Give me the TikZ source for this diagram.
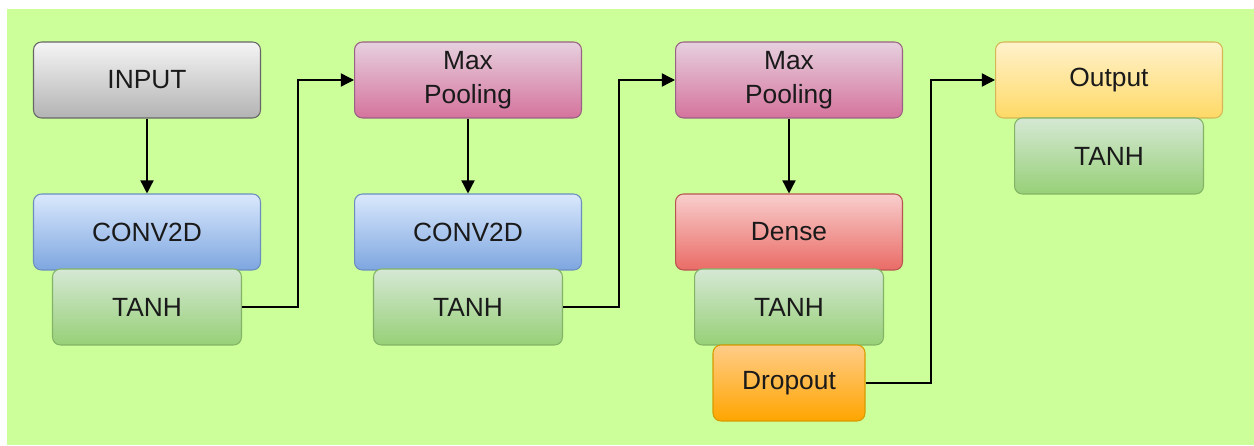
\documentclass[tikz,border=0pt]{standalone}
\usepackage{fontspec}
\setmainfont{Liberation Sans}
\usepackage{tikz}
\usetikzlibrary{arrows.meta,positioning}
\definecolor{LimeBack}{HTML}{CCFF99}
\definecolor{GreyTop}{HTML}{F5F5F5}
\definecolor{GreyBot}{HTML}{B3B3B3}
\definecolor{GreyLine}{HTML}{666666}
\definecolor{BlueTop}{HTML}{DAE8FC}
\definecolor{BlueBot}{HTML}{7EA6E0}
\definecolor{BlueLine}{HTML}{6C8EBF}
\definecolor{GreenTop}{HTML}{D5E8D4}
\definecolor{GreenBot}{HTML}{97D077}
\definecolor{GreenLine}{HTML}{82B366}
\definecolor{PinkTop}{HTML}{E6D0DE}
\definecolor{PinkBot}{HTML}{D5739D}
\definecolor{PinkLine}{HTML}{996185}
\definecolor{RedTop}{HTML}{F8CECC}
\definecolor{RedBot}{HTML}{EA6B66}
\definecolor{RedLine}{HTML}{B85450}
\definecolor{OrangeTop}{HTML}{FFCC88}
\definecolor{OrangeBot}{HTML}{FFA500}
\definecolor{OrangeLine}{HTML}{D79B00}
\definecolor{YellowTop}{HTML}{FFF2CC}
\definecolor{YellowBot}{HTML}{FFD966}
\definecolor{YellowLine}{HTML}{D6B656}
\definecolor{InkGrey}{HTML}{1A1A1A}
\tikzset{
  layer/.style={rounded corners=4.5pt,line width=0.6pt,minimum height=1.52cm,
    text width=4.54cm,inner sep=0pt,align=center,text=InkGrey,
    font=\fontsize{15}{19}\selectfont},
  inputbox/.style={layer,draw=GreyLine,top color=GreyTop,bottom color=GreyBot},
  convbox/.style={layer,draw=BlueLine,top color=BlueTop,bottom color=BlueBot},
  poolbox/.style={layer,draw=PinkLine,top color=PinkTop,bottom color=PinkBot},
  densebox/.style={layer,draw=RedLine,top color=RedTop,bottom color=RedBot},
  outbox/.style={layer,draw=YellowLine,top color=YellowTop,bottom color=YellowBot},
  actbox/.style={layer,text width=3.78cm,draw=GreenLine,top color=GreenTop,bottom color=GreenBot},
  dropbox/.style={layer,text width=3.04cm,draw=OrangeLine,top color=OrangeTop,bottom color=OrangeBot},
  arrow/.style={-{Triangle[length=7.5pt,width=7.5pt]},line width=0.8pt,black}
}
\begin{document}
\begin{tikzpicture}[x=0.02cm,y=-0.02cm]
  \useasboundingbox (0,0) rectangle (1254,446);
  \fill[LimeBack] (7,9) rectangle (1254,445);
  % first column
  \node[inputbox] (input) at (147,80) {INPUT};
  \node[convbox] (conv1) at (147,232) {CONV2D};
  \node[actbox] (tanh1) at (147,307) {TANH};
  % second column
  \node[poolbox] (pool1) at (468,80) {Max\\Pooling};
  \node[convbox] (conv2) at (468,232) {CONV2D};
  \node[actbox] (tanh2) at (468,307) {TANH};
  % third column
  \node[poolbox] (pool2) at (789,80) {Max\\Pooling};
  \node[densebox] (dense) at (789,232) {Dense};
  \node[actbox] (tanh3) at (789,307) {TANH};
  \node[dropbox] (drop) at (789,383) {Dropout};
  % output
  \node[outbox] (output) at (1109,80) {Output};
  \node[actbox] (tanh4) at (1109,156) {TANH};
  % connectors
  \draw[arrow] (input) -- (conv1);
  \draw[arrow] (pool1) -- (conv2);
  \draw[arrow] (pool2) -- (dense);
  \draw[arrow] (tanh1.east) -| (298,80) -- (pool1.west);
  \draw[arrow] (tanh2.east) -| (619,80) -- (pool2.west);
  \draw[arrow] (drop.east) -| (931,80) -- (output.west);
\end{tikzpicture}
\end{document}
